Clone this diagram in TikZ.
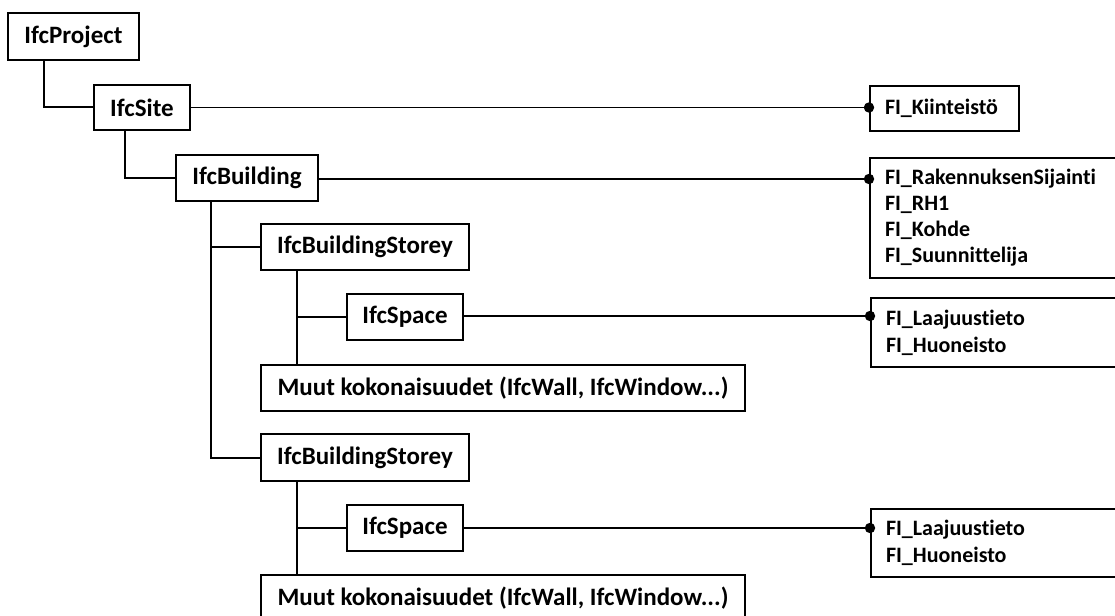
\documentclass[tikz,border=0pt]{standalone}
\usepackage{fontspec}
\setmainfont{Carlito}[Ligatures=NoCommon]
\begin{document}
\begin{tikzpicture}[x=1pt,y=-1pt,
  ifcbox/.style={draw,line width=2pt,inner sep=0pt,font=\fontsize{25}{28}\selectfont\bfseries},
  fibox/.style={draw,line width=2pt,inner xsep=15pt,inner ysep=0pt,anchor=north west,align=left,
    font=\fontsize{22}{26}\selectfont\bfseries},
  widefi/.style={fibox,font=\fontsize{22}{27}\selectfont\bfseries},
  tree/.style={line width=2pt},
  link/.style={line width=1.2pt},
  dot/.style={fill=black}]
\useasboundingbox (0,0) rectangle (1115,615);
\clip (0,0) rectangle (1115,615);

% spatial hierarchy
\node[ifcbox,minimum width=131pt,minimum height=47pt] (proj) at (73.5,36.5) {IfcProject};
\node[ifcbox,minimum width=96pt,minimum height=45pt] (site) at (142,107.5) {IfcSite};
\node[ifcbox,minimum width=142pt,minimum height=46pt] (bldg) at (247,178) {IfcBuilding};
\node[ifcbox,minimum width=208pt,minimum height=46pt] (st1) at (365,247) {IfcBuildingStorey};
\node[ifcbox,minimum width=116pt,minimum height=46pt] (sp1) at (405,317) {IfcSpace};
\node[ifcbox,minimum width=484pt,minimum height=46pt] (mu1) at (503,388) {Muut kokonaisuudet (IfcWall, IfcWindow...)};
\node[ifcbox,minimum width=208pt,minimum height=47pt] (st2) at (365,457.5) {IfcBuildingStorey};
\node[ifcbox,minimum width=116pt,minimum height=46pt] (sp2) at (405,528) {IfcSpace};
\node[ifcbox,minimum width=484pt,minimum height=46pt] (mu2) at (503,598) {Muut kokonaisuudet (IfcWall, IfcWindow...)};

% property sets
\node[fibox,text width=119pt,minimum height=45pt] (kiint) at (869,85) {FI\_Kiinteistö};
\node[fibox,text width=230pt,minimum height=120pt] (rak) at (869,157)
  {FI\_RakennuksenSijainti\\FI\_RH1\\FI\_Kohde\\FI\_Suunnittelija};
\node[widefi,text width=230pt,minimum height=69pt] (lj1) at (870,297) {FI\_Laajuustieto\\FI\_Huoneisto};
\node[widefi,text width=230pt,minimum height=68pt] (lj2) at (870,508) {FI\_Laajuustieto\\FI\_Huoneisto};

% branch points of the tree
\coordinate (pv) at ([xshift=37pt]proj.south west);
\coordinate (sv) at ([xshift=32pt]site.south west);
\coordinate (bv) at ([xshift=36pt]bldg.south west);
\coordinate (s1v) at ([xshift=37pt]st1.south west);
\coordinate (s2v) at ([xshift=37pt]st2.south west);

\draw[tree] (pv) |- (site.west);
\draw[tree] (sv) |- (bldg.west);
\draw[tree] (bv) |- (st2.west);
\draw[tree] (st1.west) -- (st1.west -| bv);
\draw[tree] (s1v) -- (s1v |- mu1.north);
\draw[tree] (sp1.west) -- (sp1.west -| s1v);
\draw[tree] (s2v) -- (s2v |- mu2.north);
\draw[tree] (sp2.west) -- (sp2.west -| s2v);

% links to property sets
\coordinate (kd) at (site.east -| kiint.west);
\coordinate (rd) at ([yshift=-1pt]bldg.east -| rak.west);
\coordinate (l1d) at ([yshift=1pt]sp1.east -| lj1.west);
\coordinate (l2d) at (sp2.east -| lj2.west);
\draw[link] (site.east) -- (kd);
\draw[link] ([yshift=-1pt]bldg.east) -- (rd);
\draw[link] ([yshift=1pt]sp1.east) -- (l1d);
\draw[link] (sp2.east) -- (l2d);
\foreach \d in {kd,rd,l1d,l2d} \fill[dot] (\d) circle (5.2pt);
\end{tikzpicture}
\end{document}
